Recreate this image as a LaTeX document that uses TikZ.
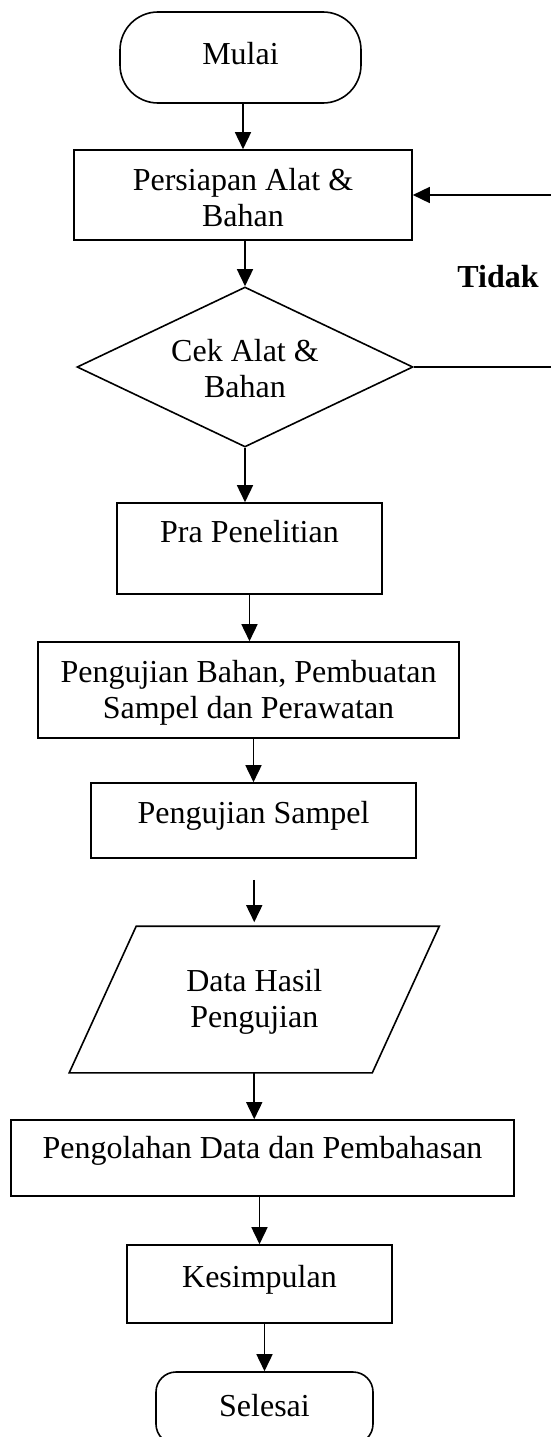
\documentclass[tikz,border=0pt]{standalone}
\usepackage{fontspec}
\setmainfont{Liberation Serif}
\usetikzlibrary{arrows.meta,shapes.geometric}
\newcommand\twolines[2]{\begin{tabular}[t]{@{}c@{}}#1\\#2\end{tabular}}
\tikzset{
  shp/.style={draw, line width=1.6pt, inner sep=0pt, font=\fontsize{32}{36}\selectfont},
  box/.style={shp, rectangle, anchor=base},
  arr/.style={line width=1.6pt, -{Triangle[length=17pt,width=16pt]}},
  ln/.style={line width=1.6pt},
}
\begin{document}
\begin{tikzpicture}[x=1pt,y=-1pt]
\useasboundingbox (0,0) rectangle (551,1437);
\coordinate (edge) at (551,0);
% nodes
\node[box, rounded corners=38pt, minimum width=241pt, text height=53pt, text depth=38pt] (mulai) at (240.5,65) {Mulai};
\node[box, minimum width=338pt, text height=40pt, text depth=50pt] (persiapan) at (243,190) {\twolines{Persiapan Alat \&}{Bahan}};
\node[shp, diamond, aspect=2.1, minimum width=336pt, minimum height=160pt, text height=26pt, text depth=38pt] (cek) at (245,367) {\twolines{Cek Alat \&}{Bahan}};
\node[box, minimum width=265pt, text height=39pt, text depth=52pt] (pra) at (249.5,542) {Pra Penelitian};
\node[box, minimum width=421pt, text height=40pt, text depth=56pt] (pb) at (248.5,682) {\twolines{Pengujian Bahan, Pembuatan}{Sampel dan Perawatan}};
\node[box, minimum width=325pt, text height=40pt, text depth=35pt] (ps) at (253.5,823) {Pengujian Sampel};
\node[box, draw=none, minimum width=301.5pt, text height=64pt, text depth=81pt] (data) at (254.25,991) {\twolines{Data Hasil}{Pengujian}};
\draw[ln] ([xshift=33.5pt]data.north west) -- ([xshift=33.5pt]data.north east) -- ([xshift=-33.5pt]data.south east) -- ([xshift=-33.5pt]data.south west) -- cycle;
\node[box, minimum width=503pt, text height=38pt, text depth=38pt] (olah) at (262.5,1158) {Pengolahan Data dan Pembahasan};
\node[box, minimum width=265pt, text height=42pt, text depth=36pt] (kes) at (259.5,1287) {Kesimpulan};
\node[box, rounded corners=20pt, minimum width=217pt, text height=44pt, text depth=28pt] (selesai) at (264.5,1416) {Selesai};
\node[anchor=base, inner sep=0pt, font=\fontsize{32}{36}\selectfont\bfseries] (tidak) at (498,287) {Tidak};
% connectors
\draw[arr] (persiapan.north |- mulai.south) -- (persiapan.north);
\draw[arr] (cek.north |- persiapan.south) -- (cek.north);
\draw[arr] (cek.south) -- (cek.south |- pra.north);
\draw[arr] (pra.south) -- (pra.south |- pb.north);
\draw[arr] (ps.north |- pb.south) -- (ps.north);
\draw[arr] ([yshift=-21pt]ps.south -| data.north) -- ([yshift=4pt]data.north);
\draw[arr] (data.south) -- (data.south |- olah.north);
\draw[arr] (kes.north |- olah.south) -- (kes.north);
\draw[arr] (selesai.north |- kes.south) -- (selesai.north);
\draw[arr] (persiapan.east -| edge) -- (persiapan.east);
\draw[ln] (cek.east) -- (cek.east -| edge);
\end{tikzpicture}
\end{document}
